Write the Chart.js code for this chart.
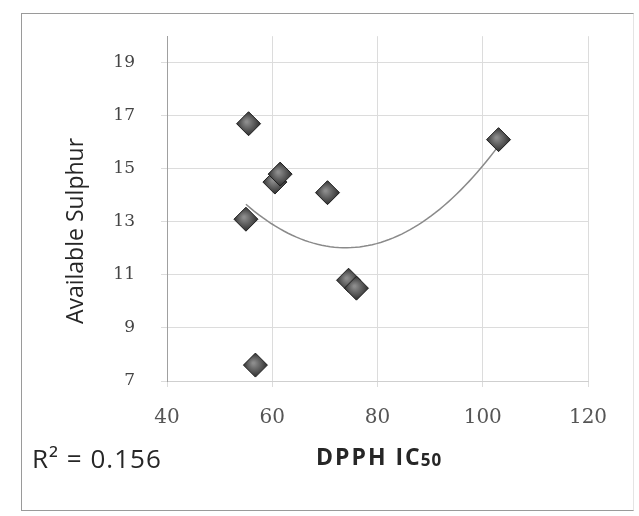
<!DOCTYPE html>
<html>
<head>
<meta charset="utf-8">
<script src="https://cdn.jsdelivr.net/npm/chart.js@4.4.0/dist/chart.umd.min.js"></script>
<style>
    body { margin: 0; background: #fff; }
    #wrap { position: relative; width: 639px; height: 516px; }
    #frame { position: absolute; left: 21px; top: 13px; width: 611px; height: 496px; border: 1px solid #9a9a9a; border-right-color: #e4e4e4; }
    canvas { position: absolute; left: 0; top: 0; }
</style>
</head>
<body>
<div id="wrap">
    <div id="frame"></div>
    <canvas id="sulphurChart" width="639" height="516"></canvas>
</div>
<script>
// data
const dpph = [55.5, 60.5, 61.5, 70.5, 55, 74.5, 76, 56.8, 103];
const sulphur = [16.7, 14.5, 14.8, 14.1, 13.1, 10.8, 10.5, 7.6, 16.1];
const xTicks = [40, 60, 80, 100, 120];
const yTicks = [7, 9, 11, 13, 15, 17, 19];
const rSquaredText = 'R² = 0.156';
const xTitle = 'DPPH IC';
const xTitleSub = '50';
const yTitle = 'Available Sulphur';

// 2nd order polynomial trendline (least squares, like Excel)
function polyFit(xs, ys) {
    let s = [0, 0, 0, 0, 0], t = [0, 0, 0];
    xs.forEach((x, i) => {
        for (let k = 0; k < 5; k++) s[k] += Math.pow(x, k);
        for (let k = 0; k < 3; k++) t[k] += ys[i] * Math.pow(x, k);
    });
    const m = [[s[0], s[1], s[2], t[0]], [s[1], s[2], s[3], t[1]], [s[2], s[3], s[4], t[2]]];
    for (let c = 0; c < 3; c++) {
        for (let r = c + 1; r < 3; r++) {
            const f = m[r][c] / m[c][c];
            for (let k = c; k < 4; k++) m[r][k] -= f * m[c][k];
        }
    }
    const b = [0, 0, 0];
    for (let r = 2; r >= 0; r--) {
        let v = m[r][3];
        for (let k = r + 1; k < 3; k++) v -= m[r][k] * b[k];
        b[r] = v / m[r][r];
    }
    return b;
}

const coef = polyFit(dpph, sulphur);
const xMin = Math.min(...dpph), xMax = Math.max(...dpph);
const trend = [];
for (let i = 0; i <= 60; i++) {
    const x = xMin + (xMax - xMin) * i / 60;
    trend.push({ x: x, y: coef[0] + coef[1] * x + coef[2] * x * x });
}

// shaded diamond like the excel 3d marker
function markerFill(c) {
    const chart = c.chart;
    if (!chart.scales.x || !chart.scales.y || !c.raw) return '#4d4d4d';
    const px = chart.scales.x.getPixelForValue(c.raw.x);
    const py = chart.scales.y.getPixelForValue(c.raw.y);
    if (!isFinite(px) || !isFinite(py)) return '#4d4d4d';
    const g = chart.ctx.createRadialGradient(px - 2, py - 2, 1, px, py, 13);
    g.addColorStop(0, '#8c8c8c');
    g.addColorStop(0.55, '#555555');
    g.addColorStop(1, '#262626');
    return g;
}

const textPlugin = {
    id: 'extraText',
    afterDraw(chart) {
        const ctx = chart.ctx;
        ctx.save();
        ctx.fillStyle = '#262626';
        ctx.textBaseline = 'alphabetic';
        // y title
        ctx.save();
        ctx.translate(83, 231);
        ctx.rotate(-Math.PI / 2);
        ctx.textAlign = 'center';
        ctx.font = '23px "Open Sans"';
        ctx.fillText(yTitle, 0, 0);
        ctx.restore();
        // R²
        ctx.textAlign = 'left';
        ctx.letterSpacing = '1px';
        ctx.font = '26px "Open Sans"';
        ctx.fillText(rSquaredText, 32, 468);
        // x title with subscript
        ctx.letterSpacing = '2px';
        ctx.font = 'bold 23px "Open Sans"';
        const w1 = ctx.measureText(xTitle).width;
        const start = 316;
        ctx.fillText(xTitle, start, 465);
        ctx.letterSpacing = '1px';
        ctx.font = 'bold 17px "Open Sans"';
        ctx.fillText(xTitleSub, start + w1 - 1, 466);
        ctx.restore();
    }
};

new Chart(document.getElementById('sulphurChart'), {
    type: 'scatter',
    data: {
        datasets: [
            {
                label: 'Trend',
                data: trend,
                showLine: true,
                borderColor: '#8a8a8a',
                borderWidth: 1.5,
                pointRadius: 0,
                tension: 0,
                order: 2
            },
            {
                label: 'Available Sulphur',
                data: dpph.map((x, i) => ({ x: x, y: sulphur[i] })),
                pointStyle: 'rectRot',
                pointRadius: 12,
                backgroundColor: markerFill,
                borderColor: '#1e1e1e',
                borderWidth: 1,
                order: 1
            }
        ]
    },
    options: {
        responsive: false,
        animation: false,
        layout: { padding: { top: 36, right: 51, left: 0, bottom: 0 } },
        plugins: {
            legend: { display: false },
            tooltip: { enabled: false }
        },
        scales: {
            x: {
                type: 'linear',
                min: 40,
                max: 120,
                afterFit: scale => { scale.height = 135; },
                afterBuildTicks: scale => { scale.ticks = xTicks.map(v => ({ value: v })); },
                grid: { color: '#dcdcdc', tickLength: 6, drawTicks: true },
                border: { color: '#cfcfcf' },
                ticks: {
                    padding: 19,
                    color: '#555',
                    font: { family: 'DejaVu Serif', size: 20 }
                }
            },
            y: {
                type: 'linear',
                min: 7,
                max: 20,
                afterFit: scale => { scale.width = 167; },
                afterBuildTicks: scale => { scale.ticks = yTicks.map(v => ({ value: v })); },
                grid: { color: '#dcdcdc', tickLength: 6, drawTicks: true },
                border: { color: '#a0a0a0' },
                ticks: {
                    padding: 26,
                    color: '#444',
                    font: { family: 'DejaVu Serif', size: 17 }
                }
            }
        }
    },
    plugins: [textPlugin]
});
</script>
</body>
</html>
